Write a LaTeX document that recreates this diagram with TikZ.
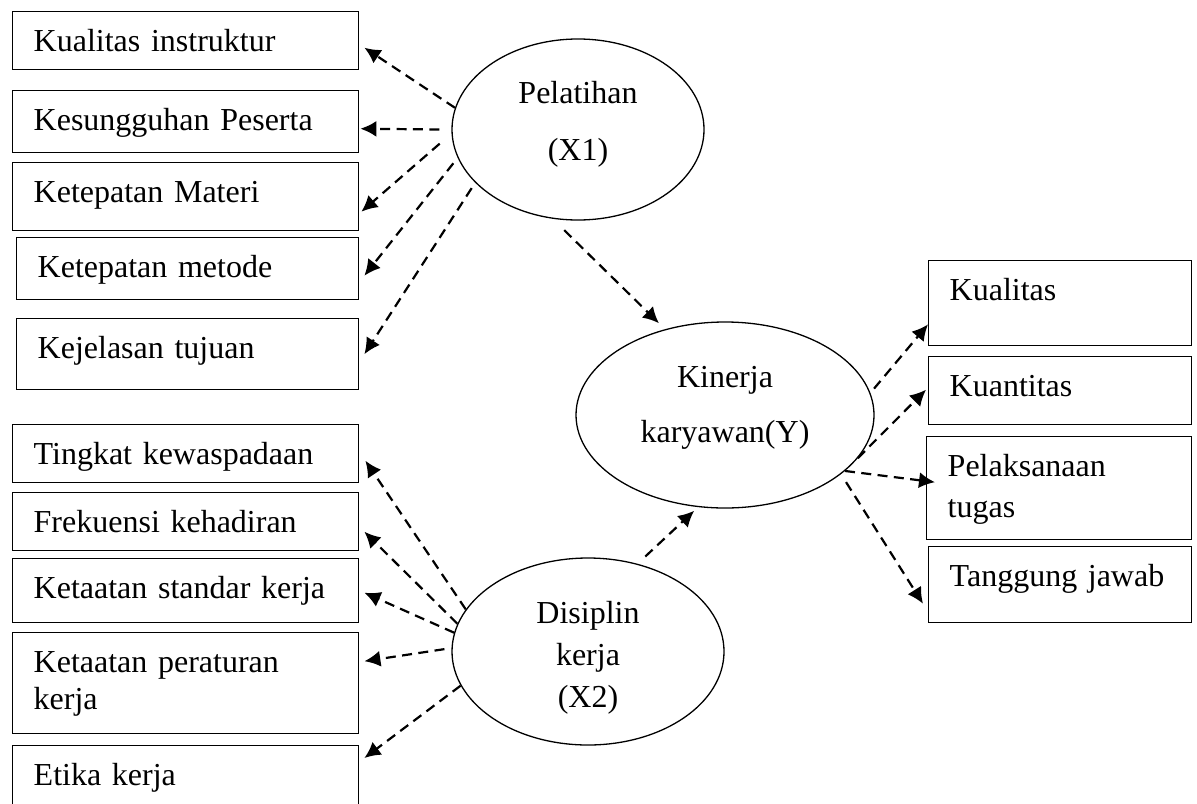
\documentclass[tikz,border=0pt]{standalone}
\usepackage{fontspec}
\setmainfont{Liberation Serif}
\usetikzlibrary{shapes,arrows.meta,positioning}

\begin{document}
\begin{tikzpicture}[x=0.5pt, y=-0.5pt,
  font=\fontsize{16}{18.5}\selectfont,
  indikator/.style={draw, line width=0.7pt, anchor=north west, inner xsep=10.5pt, inner ysep=0pt, align=left, text width=152pt, text height=20pt},
  variabel/.style={draw, ellipse, line width=0.65pt, inner sep=0pt, align=center, text height=10pt},
  panah/.style={draw, line width=1.1pt, dash pattern=on 5pt off 3.2pt, -{Latex[length=8pt,width=8pt]}},
  ]
  \clip (0,0) rectangle (1197,803);

  % variabel laten
  \node[variabel, minimum width=126pt, minimum height=90.5pt, text width=80pt, text depth=36.5pt] (pel) at (578,129.5) {Pelatihan\\[10pt](X1)};
  \node[variabel, minimum width=149pt, minimum height=93pt, text width=95pt, text depth=38pt] (kin) at (725,415) {Kinerja\\[9pt]karyawan(Y)};
  \node[variabel, minimum width=136pt, minimum height=93.5pt, text width=80pt, text depth=38.5pt] (dis) at (588,651.5) {Disiplin\\[2.5pt]kerja\\[2.5pt](X2)};

  % indikator pelatihan
  \node[indikator, text depth=9pt] (pl1) at (12,11) {Kualitas instruktur};
  \node[indikator, text depth=11pt] (pl2) at (12,90) {Kesungguhan Peserta};
  \node[indikator, text depth=14pt] (pl3) at (12,162) {Ketepatan Materi};
  \node[indikator, text width=150pt, text depth=11pt] (pl4) at (16,237) {Ketepatan metode};
  \node[indikator, text width=150pt, text depth=15.5pt] (pl5) at (16,318) {Kejelasan tujuan};

  % indikator disiplin
  \node[indikator, text depth=9pt] (ds1) at (12,424) {Tingkat kewaspadaan};
  \node[indikator, text depth=9pt] (ds2) at (12,492) {Frekuensi kehadiran};
  \node[indikator, text depth=12pt] (ds3) at (12,558) {Ketaatan standar kerja};
  \node[indikator, text depth=30.5pt] (ds4) at (12,632) {Ketaatan peraturan\\kerja};
  \node[indikator, text depth=22.5pt] (ds5) at (12,745) {Etika kerja};

  % indikator kinerja
  \node[indikator, text width=110.5pt, text depth=22.5pt] (kn1) at (928,260) {Kualitas};
  \node[indikator, text width=110.5pt, text depth=14pt] (kn2) at (928,356) {Kuantitas};
  \node[indikator, text width=111.5pt, text depth=31.5pt] (kn3) at (926,436) {Pelaksanaan\\[2pt]tugas};
  \node[indikator, text width=110.5pt, text depth=18pt] (kn4) at (928,546) {Tanggung jawab};

  % panah pelatihan
  \draw[panah] (pel.170) -- ([shift={(5,7)}]pl1.east);
  \draw[panah] ([shift={(-12,0)}]pel.180) -- ([shift={(1,7)}]pl2.east);
  \draw[panah] ([shift={(-13,1)}]pel.186) -- ([shift={(2,15)}]pl3.east);
  \draw[panah] ([shift={(-6,2)}]pel.195) -- ([shift={(5,7)}]pl4.east);
  \draw[panah] ([shift={(-6,3)}]pel.209) -- ([shift={(5,0)}]pl5.east);
  \draw[panah] ([shift={(-1,10)}]pel.262) -- ([shift={(-6,-6)}]kin.125);

  % panah disiplin
  \draw[panah] (dis.161) -- ([shift={(6,7)}]ds1.east);
  \draw[panah] (dis.168) -- ([shift={(5,10)}]ds2.east);
  \draw[panah] (dis.172) -- ([shift={(5,2)}]ds3.east);
  \draw[panah] ([shift={(-7,0)}]dis.179) -- ([shift={(5,-22)}]ds4.east);
  \draw[panah] (dis.195) -- ([shift={(5,13)}]ds5.north east);
  \draw[panah] ([shift={(5,-8)}]dis.59) -- ([shift={(-1,4)}]kin.252);

  % panah kinerja
  \draw[panah] ([shift={(5,-1)}]kin.10) -- ([shift={(0,-22)}]kn1.south west);
  \draw[panah] (kin.342) -- ([shift={(-2,-1)}]kn2.west);
  \draw[panah] (kin.335) -- ([shift={(9,-6)}]kn3.west);
  \draw[panah] ([shift={(9,5)}]kin.331) -- ([shift={(-5,19)}]kn4.west);
\end{tikzpicture}
\end{document}
